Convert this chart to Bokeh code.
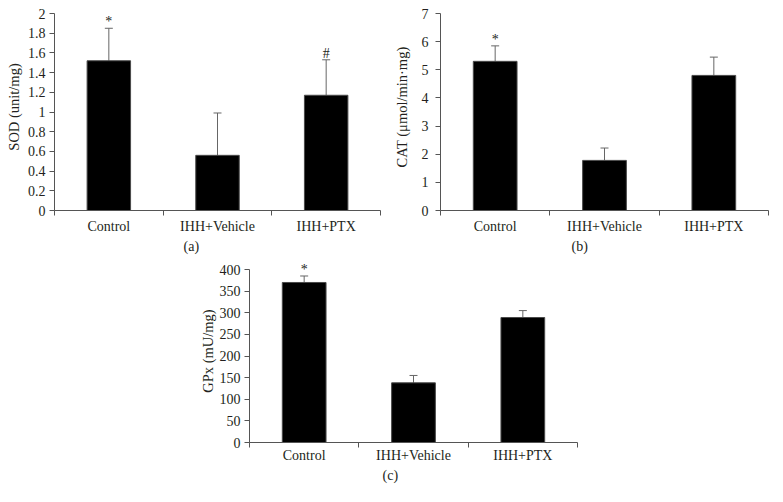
from bokeh.plotting import figure
from bokeh.layouts import column, row
from bokeh.models import FixedTicker, Whisker, TeeHead, ColumnDataSource, Title, Spacer
from bokeh.core.properties import value
from bokeh.embed import file_html
from bokeh.resources import INLINE

groups = ["Control", "IHH+Vehicle", "IHH+PTX"]

sod_mean = [1.52, 0.56, 1.17]
sod_upper = [1.85, 0.99, 1.53]
sod_mark = ["*", "", "#"]
sod_ticks = ["0", "0.2", "0.4", "0.6", "0.8", "1", "1.2", "1.4", "1.6", "1.8", "2"]

cat_mean = [5.3, 1.78, 4.8]
cat_upper = [5.85, 2.22, 5.45]
cat_mark = ["*", "", ""]
cat_ticks = ["0", "1", "2", "3", "4", "5", "6", "7"]

gpx_mean = [370, 138, 289]
gpx_upper = [385, 155, 305]
gpx_mark = ["*", "", ""]
gpx_ticks = ["0", "50", "100", "150", "200", "250", "300", "350", "400"]

FONT = "Liberation Serif"
TXT = "#231f20"
AX = "#555555"
EXT = 10  # extra pixels of frame above the top tick, so marks are not clipped


def panel(mean, upper, marks, ticks, ylabel, tag, frame_w, frame_h, left, right, top, bottom,
          xlab_standoff, ytick_standoff, ylab_standoff, tag_offset):
    n = len(groups)
    xs = [i + 0.5 for i in range(n)]
    tvals = [float(t) for t in ticks]
    ymax = tvals[-1]
    y_end = ymax * (frame_h + EXT) / frame_h
    src = ColumnDataSource(dict(x=xs, mean=mean, upper=upper, mark=marks))
    p = figure(x_range=(0, n), y_range=(0, y_end), frame_width=frame_w,
               frame_height=frame_h + EXT,
               min_border_left=left, min_border_right=right, min_border_top=top - EXT,
               min_border_bottom=bottom, output_backend="svg", toolbar_location=None)
    p.xgrid.visible = False
    p.ygrid.visible = False
    p.outline_line_color = None
    p.background_fill_color = "white"

    p.vbar(x="x", top="mean", width=0.4, fill_color="black", line_color="#4a4a4a",
           line_width=1, source=src)
    wh = Whisker(base="x", lower="mean", upper="upper", source=src, line_color="#666666",
                 line_width=1, lower_head=None,
                 upper_head=TeeHead(size=8, line_color="#666666", line_width=1))
    p.add_layout(wh)
    p.text(x="x", y="upper", text="mark", text_align="center", text_baseline="bottom",
           y_offset=1, text_font=value(FONT), text_font_size="14px", text_color=TXT,
           source=src)

    xa = p.xaxis[0]
    xa.ticker = FixedTicker(ticks=xs, minor_ticks=list(range(n + 1)))
    xa.major_label_overrides = {x: g for x, g in zip(xs, groups)}
    xa.major_tick_out = 0
    xa.major_tick_in = 0
    xa.minor_tick_out = 5
    xa.minor_tick_in = 0
    xa.minor_tick_line_color = AX
    xa.axis_line_color = AX
    xa.major_label_text_font = FONT
    xa.major_label_text_font_size = "14px"
    xa.major_label_text_color = TXT
    xa.major_label_standoff = xlab_standoff

    ya = p.yaxis[0]
    ya.bounds = (0, ymax)
    ya.ticker = FixedTicker(ticks=tvals, minor_ticks=[])
    ya.major_label_overrides = {v: t for v, t in zip(tvals, ticks)}
    ya.major_tick_out = 5
    ya.major_tick_in = 0
    ya.major_tick_line_color = AX
    ya.axis_line_color = AX
    ya.major_label_text_font = FONT
    ya.major_label_text_font_size = "14px"
    ya.major_label_text_color = TXT
    ya.major_label_standoff = ytick_standoff
    ya.axis_label = ylabel
    ya.axis_label_text_font = FONT
    ya.axis_label_text_font_size = "14.5px"
    ya.axis_label_text_font_style = "normal"
    ya.axis_label_text_color = TXT
    ya.axis_label_standoff = ylab_standoff

    t = Title(text=tag, align="left", offset=tag_offset, text_font=FONT,
              text_font_size="14px", text_font_style="normal", text_color=TXT, standoff=1)
    p.add_layout(t, "below")
    return p


pa = panel(sod_mean, sod_upper, sod_mark, sod_ticks, "SOD (unit/mg)", "(a)",
           326, 197, 54, 10, 13, 48, 3, 4, 3, 129)
pb = panel(cat_mean, cat_upper, cat_mark, cat_ticks, "CAT (\u03bcmol/min\u00b7mg)", "(b)",
           328, 197, 50, 15, 13, 48, 3, 7, 9, 131)
pc = panel(gpx_mean, gpx_upper, gpx_mark, gpx_ticks, "GPx (mU/mg)", "(c)",
           328, 173, 59, 10, 11, 56, 0, 4, 1, 133)

layout = column(row(pa, pb), row(Spacer(width=190, height=10), pc))
open("out.html", "w").write(file_html(layout, INLINE))
